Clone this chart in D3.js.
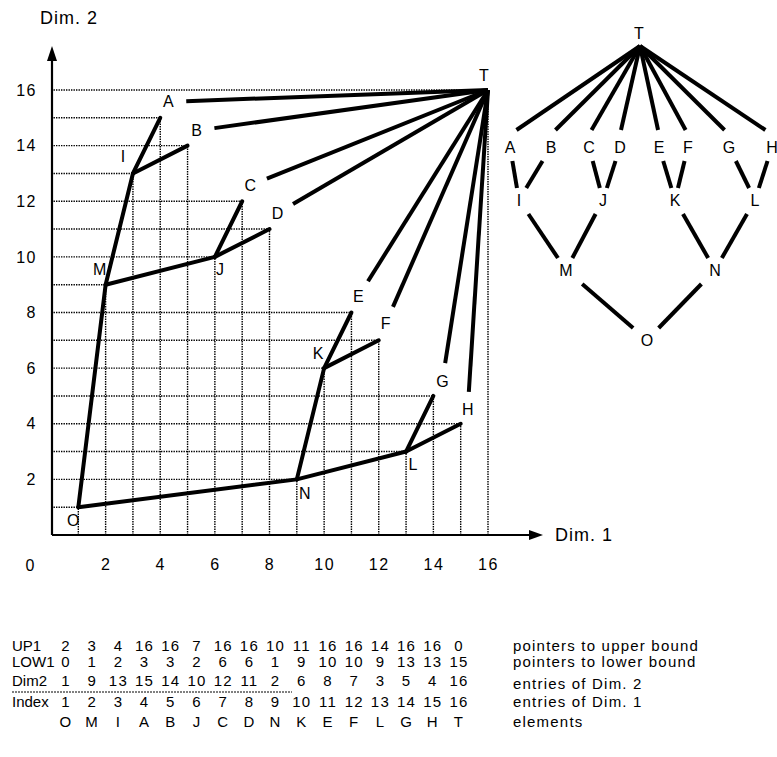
<!DOCTYPE html>
<html>
<head>
<meta charset="utf-8">
<script src="https://cdn.jsdelivr.net/npm/d3@7"></script>
<style>
body{margin:0;background:#fff;}
svg{font-family:"Liberation Sans",Arial,sans-serif;}
</style>
</head>
<body>
<svg id="chart" width="777" height="757"></svg>
<script>
// elements in the order of Dim. 1
var elements=["O","M","I","A","B","J","C","D","N","K","E","F","L","G","H","T"];
var index=[1,2,3,4,5,6,7,8,9,10,11,12,13,14,15,16];
var dim2=[1,9,13,15,14,10,12,11,2,6,8,7,3,5,4,16];
var up1=[2,3,4,16,16,7,16,16,10,11,16,16,14,16,16,0];
var low1=[0,1,2,3,3,2,6,6,1,9,10,10,9,13,13,15];

var xTicks=[2,4,6,8,10,12,14,16];
var yTicks=[2,4,6,8,10,12,14,16];

var rowNames=["UP1","LOW1","Dim2","Index"];
var rowNotes=["pointers to upper bound","pointers to lower bound","entries of Dim. 2","entries of Dim. 1","elements"];

var nodes=elements.map(function(e,i){
    return {name:e, x:index[i], y:dim2[i], up:up1[i], low:low1[i]};
});
var topNode=nodes[nodes.length-1];
var edges=nodes.filter(d=>d.low>0 && d.up>0).map(d=>({a:d, b:nodes[d.low-1]}));
var topEdges=nodes.filter(d=>d.up===topNode.x);

var svg=d3.select("#chart");

var xScale=d3.scaleLinear().domain([0,16]).range([51,488]);
var yScale=d3.scaleLinear().domain([0,16]).range([535,90]);

/*************** GRID ***************/
var grid=svg.append('g')
    .attr('stroke','#000')
    .attr('stroke-width',1.4)
    .attr('stroke-dasharray','1.4,1.1');

grid.selectAll('.hline')
    .data(nodes)
    .enter()
    .append('line')
    .attr('x1',xScale(0))
    .attr('x2',d=>xScale(d.x))
    .attr('y1',d=>yScale(d.y))
    .attr('y2',d=>yScale(d.y));

grid.selectAll('.vline')
    .data(nodes)
    .enter()
    .append('line')
    .attr('x1',d=>xScale(d.x))
    .attr('x2',d=>xScale(d.x))
    .attr('y1',yScale(0))
    .attr('y2',d=>yScale(d.y));

/*************** AXES ***************/
var xAxis=d3.axisBottom(xScale).tickValues(xTicks).tickSize(0).tickPadding(24);
var yAxis=d3.axisLeft(yScale).tickValues(yTicks).tickSize(0).tickPadding(14);

var gx=svg.append('g')
    .attr('transform','translate(0,'+yScale(0)+')')
    .call(xAxis);
var gy=svg.append('g')
    .attr('transform','translate('+xScale(0)+',0)')
    .call(yAxis);
gx.select('.domain').remove();
gy.select('.domain').remove();
svg.selectAll('.tick text')
    .attr('font-family','"Liberation Sans",Arial,sans-serif')
    .attr('font-size',16)
    .attr('letter-spacing',1.5)
    .attr('fill','#000');

svg.append('text')
    .attr('x',30).attr('y',565).attr('dy','0.35em')
    .attr('text-anchor','middle')
    .attr('font-size',16)
    .text('0');

var ax=xScale(0)+1, ay=yScale(0);
svg.append('path')
    .attr('d','M'+ax+','+ay+'H533M'+ax+','+ay+'V58')
    .attr('stroke','#000')
    .attr('stroke-width',2.2)
    .attr('fill','none');
svg.append('path')
    .attr('d','M543,'+ay+'L529,'+(ay-5)+'L529,'+(ay+5)+'Z')
    .attr('fill','#000');
svg.append('path')
    .attr('d','M'+ax+',46L'+(ax-5)+',61L'+(ax+5)+',61Z')
    .attr('fill','#000');

svg.append('text')
    .attr('x',555).attr('y',ay).attr('dy','0.35em')
    .attr('font-size',18)
    .attr('letter-spacing',1)
    .text('Dim. 1');
svg.append('text')
    .attr('x',40).attr('y',18).attr('dy','0.35em')
    .attr('font-size',18)
    .attr('letter-spacing',1)
    .text('Dim. 2');

/*************** LATTICE IN THE PLANE ***************/
// label offsets from the points
var labelOff={O:[-5,13],M:[-6,-15],I:[-10,-17],A:[8,-16],B:[9,-15],J:[5,13],C:[8,-16],D:[8,-16],
    N:[8,14],K:[-6,-15],E:[7,-16],F:[7,-17],L:[7,13],G:[9,-15],H:[7,-14],T:[-4,-15]};
function lx(d){return xScale(d.x)+labelOff[d.name][0];}
function ly(d){return yScale(d.y)+labelOff[d.name][1];}

svg.append('g')
    .selectAll('line')
    .data(edges)
    .enter()
    .append('line')
    .attr('x1',d=>xScale(d.a.x))
    .attr('y1',d=>yScale(d.a.y))
    .attr('x2',d=>xScale(d.b.x))
    .attr('y2',d=>yScale(d.b.y))
    .attr('stroke','#000')
    .attr('stroke-width',4)
    .attr('stroke-linecap','round');

// lines from T stop short of the labels
var tx=xScale(topNode.x), ty=yScale(topNode.y);
svg.append('g')
    .selectAll('line')
    .data(topEdges)
    .enter()
    .append('line')
    .attr('x1',tx)
    .attr('y1',ty)
    .attr('x2',function(d){
        var dx=tx-lx(d), dy=ty-ly(d), n=Math.sqrt(dx*dx+dy*dy);
        return lx(d)+dx/n*18;
    })
    .attr('y2',function(d){
        var dx=tx-lx(d), dy=ty-ly(d), n=Math.sqrt(dx*dx+dy*dy);
        return ly(d)+dy/n*18;
    })
    .attr('stroke','#000')
    .attr('stroke-width',4);

svg.append('g')
    .selectAll('text')
    .data(nodes)
    .enter()
    .append('text')
    .attr('x',lx)
    .attr('y',ly)
    .attr('dy','0.35em')
    .attr('text-anchor','middle')
    .attr('font-size',16)
    .text(d=>d.name);

/*************** HASSE DIAGRAM ***************/
var treePos={T:[639,33],A:[510,147],B:[551,147],C:[589,147],D:[620,147],E:[659,147],F:[688,147],
    G:[729,147],H:[772,147],I:[519,200],J:[603,200],K:[675,200],L:[755,200],M:[566,270],N:[715,270],O:[647,340]};

var tree=svg.append('g')
    .attr('stroke','#000')
    .attr('stroke-width',4);

var apex=[treePos.T[0]+1,treePos.T[1]+13];
tree.selectAll('.tline')
    .data(topEdges)
    .enter()
    .append('line')
    .attr('x1',apex[0])
    .attr('y1',apex[1])
    .attr('x2',d=>apex[0]+(treePos[d.name][0]-apex[0])*0.95)
    .attr('y2',d=>treePos[d.name][1]-17);

function along(p,q,yy){
    return p[0]+(q[0]-p[0])*(yy-p[1])/(q[1]-p[1]);
}
tree.selectAll('.eline')
    .data(edges)
    .enter()
    .append('line')
    .attr('x1',d=>along(treePos[d.a.name],treePos[d.b.name],treePos[d.a.name][1]+14))
    .attr('y1',d=>treePos[d.a.name][1]+14)
    .attr('x2',d=>along(treePos[d.a.name],treePos[d.b.name],treePos[d.b.name][1]-12))
    .attr('y2',d=>treePos[d.b.name][1]-12);

svg.append('g')
    .selectAll('text')
    .data(nodes)
    .enter()
    .append('text')
    .attr('x',d=>treePos[d.name][0])
    .attr('y',d=>treePos[d.name][1])
    .attr('dy','0.35em')
    .attr('text-anchor','middle')
    .attr('font-size',16)
    .text(d=>d.name);

/*************** TABLE ***************/
var col=d3.scaleLinear().domain([1,16]).range([66,459]);
var rowY=[646,662,681,702,722];
var rows=[up1,low1,dim2,index];

var table=svg.append('g')
    .attr('font-size',15)
    .attr('letter-spacing',1.2);

rows.forEach(function(r,i){
    table.append('text')
        .attr('x',12).attr('y',rowY[i]).attr('dy','0.35em')
        .attr('letter-spacing',0)
        .text(rowNames[i]);
    table.selectAll('.r'+i)
        .data(r)
        .enter()
        .append('text')
        .attr('x',(d,j)=>col(index[j]))
        .attr('y',rowY[i])
        .attr('dy','0.35em')
        .attr('text-anchor','middle')
        .text(d=>d);
});
table.selectAll('.el')
    .data(elements)
    .enter()
    .append('text')
    .attr('x',(d,j)=>col(index[j]))
    .attr('y',rowY[4])
    .attr('dy','0.35em')
    .attr('text-anchor','middle')
    .text(d=>d);

table.selectAll('.note')
    .data(rowNotes)
    .enter()
    .append('text')
    .attr('x',513)
    .attr('y',(d,i)=>rowY[i]+(i===2?3:0))
    .attr('dy','0.35em')
    .text(d=>d);

table.append('line')
    .attr('x1',12).attr('x2',292)
    .attr('y1',692).attr('y2',692)
    .attr('stroke','#000')
    .attr('stroke-width',1)
    .attr('stroke-dasharray','2,1');
</script>
</body>
</html>
